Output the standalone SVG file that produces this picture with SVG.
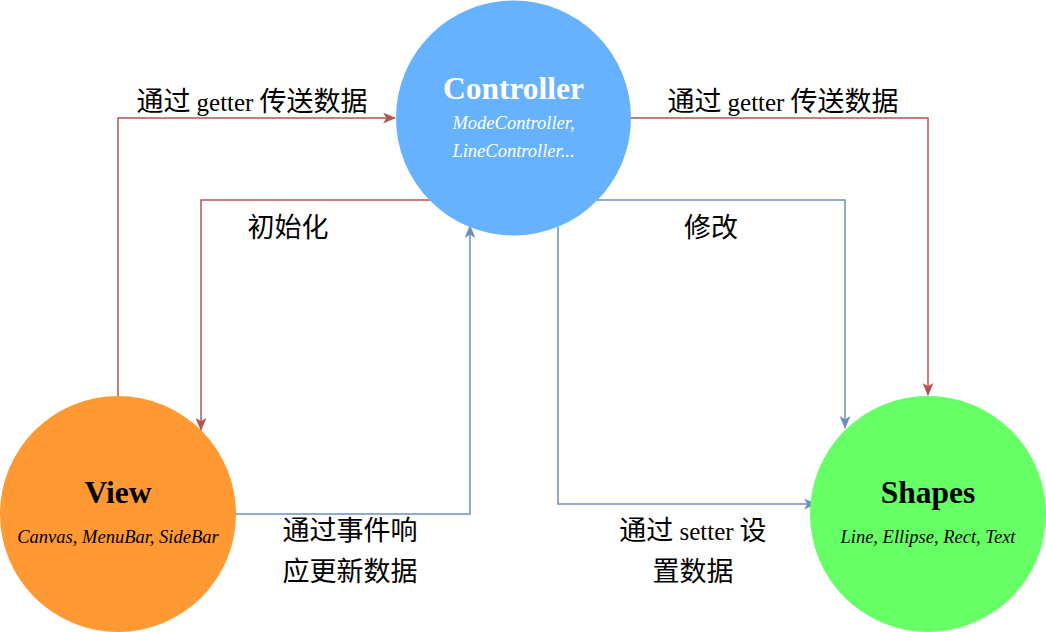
<svg xmlns="http://www.w3.org/2000/svg" width="1046" height="632" viewBox="0 0 1046 632">
<defs>
<style>
.red{fill:none;stroke:#b85450;stroke-width:1.5}
.blue{fill:none;stroke:#6c8ebf;stroke-width:1.5}
.title{font-family:"Liberation Serif",serif;font-weight:bold;font-size:31.5px;text-anchor:middle}
.sub{font-family:"Liberation Serif",serif;font-style:italic;font-size:18.5px;text-anchor:middle}
.lbl{font-family:"Noto Sans CJK SC","Noto Sans",sans-serif;font-size:27px;text-anchor:middle;fill:#000}
.lat{font-family:"Liberation Serif",serif;font-size:25px}
</style>
<marker id="ar" viewBox="0 0 12 10" refX="11" refY="5" markerWidth="13" markerHeight="11" markerUnits="userSpaceOnUse" orient="auto">
<path d="M0,0 L12,5 L0,10 L3,5 Z" fill="#b85450"/>
</marker>
<marker id="ab" viewBox="0 0 12 10" refX="11" refY="5" markerWidth="13" markerHeight="11" markerUnits="userSpaceOnUse" orient="auto">
<path d="M0,0 L12,5 L0,10 L3,5 Z" fill="#6c8ebf"/>
</marker>
</defs>
<rect width="1046" height="632" fill="#fff"/>
<g id="connectors">
<path class="red" d="M118,396 V118 H395" marker-end="url(#ar)"/>
<path class="red" d="M631,118 H928 V395" marker-end="url(#ar)"/>
<path class="red" d="M430,200 H201 V430" marker-end="url(#ar)"/>
<path class="blue" d="M236,514 H470 V226" marker-end="url(#ab)"/>
<path class="blue" d="M597,200 H845 V428" marker-end="url(#ab)"/>
<path class="blue" d="M558,227 V504 H816" marker-end="url(#ab)"/>
<text class="lbl" x="252" y="111">通过 <tspan class="lat">getter</tspan> 传送数据</text>
<text class="lbl" x="783" y="111">通过 <tspan class="lat">getter</tspan> 传送数据</text>
<text class="lbl" x="288" y="237">初始化</text>
<text class="lbl" x="711" y="237">修改</text>
<text class="lbl" x="350" y="540">通过事件响</text>
<text class="lbl" x="350" y="581">应更新数据</text>
<text class="lbl" x="693" y="540">通过 <tspan class="lat">setter</tspan> 设</text>
<text class="lbl" x="693" y="581">置数据</text>
</g>
<g id="controller">
<circle cx="513.5" cy="118" r="117.5" fill="#66b2ff"/>
<text class="title" x="513.5" y="99" fill="#fff">Controller</text>
<text class="sub" x="513.5" y="129" fill="#fff">ModeController,</text>
<text class="sub" x="513.5" y="157" fill="#fff">LineController...</text>
</g>
<g id="view">
<circle cx="118" cy="514" r="118" fill="#ff9933"/>
<text class="title" x="118" y="503" fill="#000">View</text>
<text class="sub" x="118" y="543" fill="#000">Canvas, MenuBar, SideBar</text>
</g>
<g id="shapes">
<circle cx="928" cy="514" r="118" fill="#66ff66"/>
<text class="title" x="928" y="503" fill="#000">Shapes</text>
<text class="sub" x="928" y="543" fill="#000">Line, Ellipse, Rect, Text</text>
</g>
</svg>
